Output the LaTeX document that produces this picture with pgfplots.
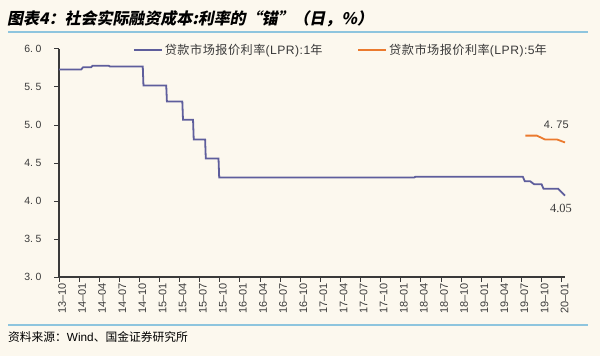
\documentclass[border=0pt]{standalone}
\usepackage{fontspec}
\setmainfont{Liberation Sans}
\newfontfamily\cjk{Noto Sans CJK SC}
\newfontfamily\cjkit[FakeSlant=0.2]{Noto Sans CJK SC}
\newfontfamily\serif{Liberation Serif}
\newfontfamily\legcjk[LetterSpace=4]{Noto Sans CJK SC}
\newfontfamily\legrm[LetterSpace=4]{Liberation Sans}
\usepackage{pgfplots}
\pgfplotsset{compat=1.18}
\definecolor{bg}{HTML}{FCF8EE}
\definecolor{lpra}{HTML}{5E5E9C}
\definecolor{lprb}{HTML}{EB7A2E}
\definecolor{rulec}{HTML}{8EC5DE}
\definecolor{axisc}{HTML}{3A3A3A}
\begin{document}
\begin{tikzpicture}[x=1bp,y=1bp]
\fill[bg] (0,0) rectangle (600,356);
\draw[rulec, line width=1.6bp] (8,324) -- (588,324);
\draw[rulec, line width=1.6bp] (8,31) -- (588,31);
\node[anchor=west, inner sep=0] at (7,337) {\fontsize{16}{18}\selectfont\cjkit\bfseries 图表4：社会实际融资成本:利率的“锚”（日，\%）};
\node[anchor=west, inner sep=0] at (8,19) {\fontsize{11.8}{13}\selectfont\cjk 资料来源：\rmfamily Wind\cjk 、国金证券研究所};
\begin{axis}[
  at={(59bp,79bp)}, anchor=south west,
  scale only axis, width=506bp, height=228bp,
  xmin=0, xmax=75.5, ymin=3, ymax=6,
  axis lines*=left,
  axis line style={axisc, line width=1.1bp},
  tick style={axisc, line width=1bp},
  tick align=outside,
  major tick length=5bp,
  xtick={0,3,...,75},
  xticklabels={13–10,14–01,14–04,14–07,14–10,15–01,15–04,15–07,15–10,16–01,16–04,16–07,16–10,17–01,17–04,17–07,17–10,18–01,18–04,18–07,18–10,19–01,19–04,19–07,19–10,20–01},
  xticklabel style={rotate=90, anchor=east, font=\fontsize{11}{12}\selectfont, inner sep=1bp, yshift=-3bp, text=axisc},
  ytick={3,3.5,4,4.5,5,5.5,6},
  yticklabels={3.\hspace{0.25em}0,3.\hspace{0.25em}5,4.\hspace{0.25em}0,4.\hspace{0.25em}5,5.\hspace{0.25em}0,5.\hspace{0.25em}5,6.\hspace{0.25em}0},
  yticklabel style={font=\fontsize{10.5}{12}\selectfont, text=axisc, xshift=-9bp},
  legend columns=2,
  legend style={at={(0.146,0.995)}, anchor=west, draw=none, fill=none, inner sep=0pt,
    font=\fontsize{12.2}{13}\selectfont\legcjk, text=axisc,
    /tikz/every even column/.append style={column sep=33bp}},
  legend image code/.code={\draw[#1] (0bp,0bp) -- (28bp,0bp);},
  clip=false,
]
\addplot[lpra, line width=1.8bp] coordinates {
(0,5.73) (3.3,5.73) (3.6,5.76) (4.8,5.76) (5.0,5.78) (7.4,5.78) (7.6,5.77)
(12.5,5.77) (12.6,5.52) (16.0,5.52) (16.1,5.31) (18.4,5.31) (18.5,5.07)
(20.0,5.07) (20.1,4.81) (21.8,4.81) (21.9,4.56) (23.8,4.56) (23.9,4.31)
(53.0,4.31) (53.2,4.32) (69.2,4.32) (69.5,4.26) (70.3,4.26) (70.9,4.22)
(72.0,4.22) (72.3,4.16) (74.5,4.16) (75.5,4.07)};
\addlegendentry{贷款市场报价利率\legrm(LPR):1\legcjk 年}
\addplot[lprb, line width=1.8bp] coordinates {
(69.6,4.86) (71.3,4.86) (72.5,4.81) (74.3,4.81) (75.5,4.77)};
\addlegendentry{贷款市场报价利率\legrm(LPR):5\legcjk 年}
\node[text=axisc] at (axis cs:74.2,5.0) {\fontsize{11}{12}\selectfont 4.\hspace{0.3em}75};
\node[text=axisc] at (axis cs:74.9,3.90) {\fontsize{12.5}{14}\selectfont\serif 4.05};
\end{axis}
\end{tikzpicture}
\end{document}
